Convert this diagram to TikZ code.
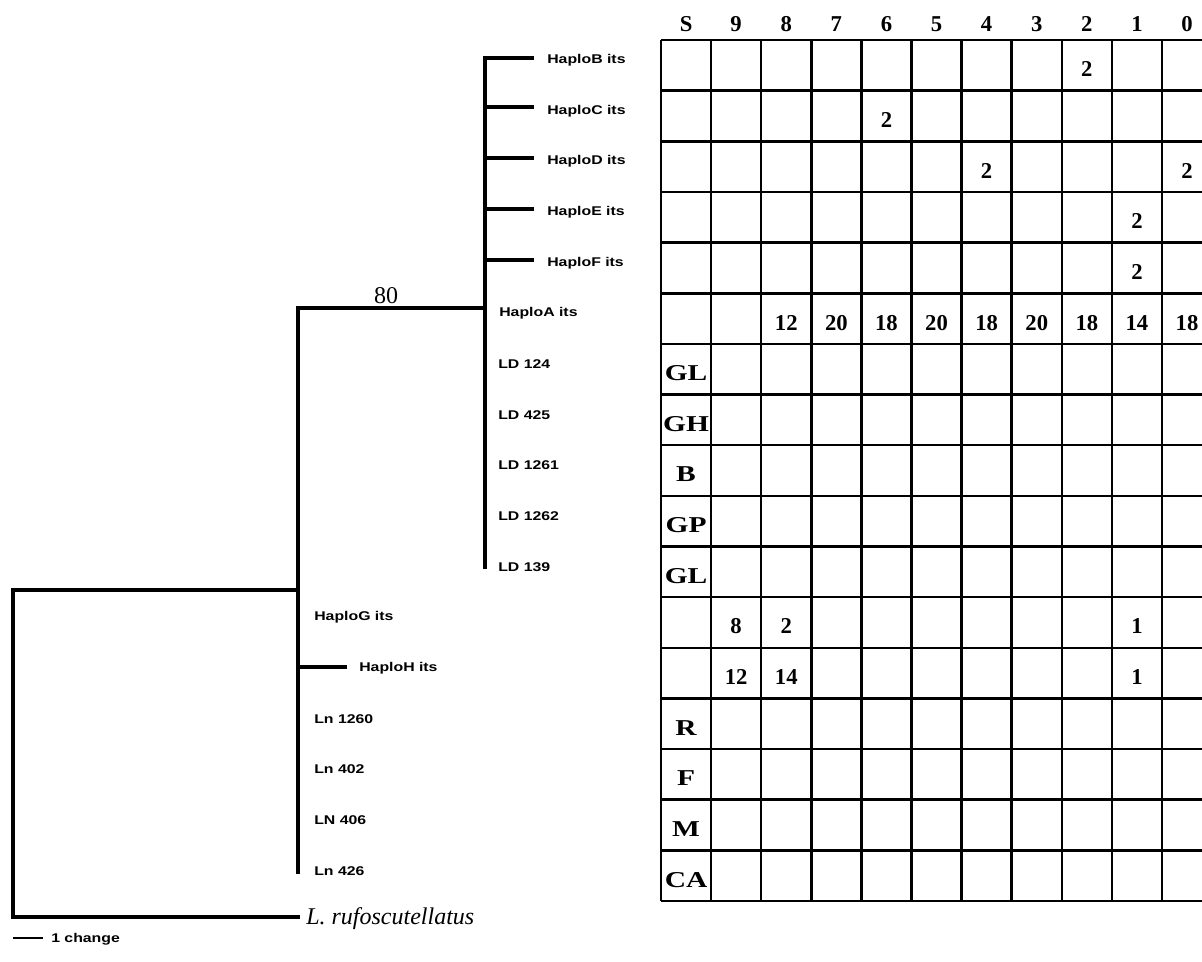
\documentclass[tikz,border=0pt]{standalone}
\usepackage{fontspec}
\setmainfont{Liberation Serif}
\newfontfamily\labfont[FakeStretch=1.25]{Liberation Sans}
\newfontfamily\rowfont[FakeStretch=1.3]{Liberation Serif}
\tikzset{
  tree/.style={line width=2.4pt, line cap=rect},
  gridln/.style={line width=1.9pt},
  taxon/.style={anchor=west, inner sep=0pt, font=\labfont\bfseries\fontsize{9.5}{9.5}\selectfont},
  cellv/.style={inner sep=0pt, font=\bfseries\fontsize{17}{17}\selectfont},
  rowlab/.style={inner sep=0pt, font=\rowfont\bfseries\fontsize{17}{17}\selectfont},
  head/.style={inner sep=0pt, font=\bfseries\fontsize{17}{17}\selectfont},
}
\newcommand{\cx}[1]{661+50.1*(#1+0.5)}
\newcommand{\ry}[1]{40+50.65*(#1+0.5)+4}
\begin{document}
\begin{tikzpicture}[x=0.75pt,y=-0.75pt]
\useasboundingbox (0,0) rectangle (1202,962);
% ---------------- tree coordinates
\coordinate (root) at (13,590);
\coordinate (rootlow) at (13,917);
\coordinate (outtip) at (298,917);
\coordinate (nAroot) at (298,590);
\coordinate (nAtop) at (298,308);
\coordinate (nAbot) at (298,872);
\coordinate (nB) at (485,308);
\coordinate (nBtop) at (485,58);
\coordinate (nBbot) at (485,567);
% ---------------- taxon labels
\node[taxon] (hB) at (547,60.3) {HaploB its};
\node[taxon] (hC) at (547,111) {HaploC its};
\node[taxon] (hD) at (547,161.6) {HaploD its};
\node[taxon] (hE) at (547,212.3) {HaploE its};
\node[taxon] (hF) at (547,262.9) {HaploF its};
\node[taxon] (hA) at (499,313.6) {HaploA its};
\node[taxon] (ld124) at (498,364.2) {LD 124};
\node[taxon] (ld425) at (498,414.9) {LD 425};
\node[taxon] (ld1261) at (498,465.5) {LD 1261};
\node[taxon] (ld1262) at (498,516.2) {LD 1262};
\node[taxon] (ld139) at (498,566.8) {LD 139};
\node[taxon] (hG) at (314,617.5) {HaploG its};
\node[taxon] (hH) at (359,668.1) {HaploH its};
\node[taxon] (ln1260) at (314,718.8) {Ln 1260};
\node[taxon] (ln402) at (314,769.4) {Ln 402};
\node[taxon] (ln406) at (314,820.1) {LN 406};
\node[taxon] (ln426) at (314,870.7) {Ln 426};
\node[anchor=west, inner sep=0pt, font=\itshape\fontsize{18}{18}\selectfont] (outg) at (306,919) {L. rufoscutellatus};
% ---------------- branch tips
\coordinate (tB) at (532,58);
\coordinate (tC) at (532,107);
\coordinate (tD) at (532,158);
\coordinate (tE) at (532,209);
\coordinate (tF) at (532,260);
\coordinate (bB) at (485,58);
\coordinate (bC) at (485,107);
\coordinate (bD) at (485,158);
\coordinate (bE) at (485,209);
\coordinate (bF) at (485,260);
\coordinate (bH) at (298,667);
\coordinate (tH) at (345,667);
% ---------------- branches
\draw[tree] (nAroot) -- (root) -- (rootlow) -- (outtip);
\draw[tree] (nAtop) -- (nAbot);
\draw[tree] (nAtop) -- (nB);
\draw[tree] (nBtop) -- (nBbot);
\foreach \t in {B,C,D,E,F} \draw[tree] (b\t) -- (t\t);
\draw[tree] (bH) -- (tH);
\node[inner sep=0pt, anchor=south, font=\fontsize{18}{18}\selectfont] (boot) at (386,304) {80};
% scale bar
\coordinate (sb1) at (13,938);
\coordinate (sb2) at (43,938);
\draw[line width=2pt] (sb1) -- (sb2);
\node[taxon] (sbl) at (51,939) {1 change};
% ---------------- grid
\foreach \i in {0,...,17} \draw[gridln] (661,{40+50.65*\i}) -- (1202,{40+50.65*\i});
\foreach \j in {0,...,10} \draw[gridln] ({661+50.1*\j},40) -- ({661+50.1*\j},901);
% header
\foreach \h [count=\k from 0] in {S,9,8,7,6,5,4,3,2,1,0}
  \node[head] (hd\k) at ({\cx{\k}},24) {\h};
% values
\node[cellv] (v0) at ({\cx{8}},{\ry{0}}) {2};
\node[cellv] (v1) at ({\cx{4}},{\ry{1}}) {2};
\node[cellv] (v2a) at ({\cx{6}},{\ry{2}}) {2};
\node[cellv] (v2b) at ({\cx{10}},{\ry{2}}) {2};
\node[cellv] (v3) at ({\cx{9}},{\ry{3}}) {2};
\node[cellv] (v4) at ({\cx{9}},{\ry{4}}) {2};
\foreach \v [count=\k from 2] in {12,20,18,20,18,20,18,14,18}
  \node[cellv] (v5-\k) at ({\cx{\k}},{\ry{5}}) {\v};
\foreach \r [count=\k from 6] in {GL,GH,B,GP,GL}
  \node[rowlab] (r\k) at ({\cx{0}},{\ry{\k}}) {\r};
\node[cellv] (v11a) at ({\cx{1}},{\ry{11}}) {8};
\node[cellv] (v11b) at ({\cx{2}},{\ry{11}}) {2};
\node[cellv] (v11c) at ({\cx{9}},{\ry{11}}) {1};
\node[cellv] (v12a) at ({\cx{1}},{\ry{12}}) {12};
\node[cellv] (v12b) at ({\cx{2}},{\ry{12}}) {14};
\node[cellv] (v12c) at ({\cx{9}},{\ry{12}}) {1};
\foreach \r [count=\k from 13] in {R,F,M,CA}
  \node[rowlab] (r\k) at ({\cx{0}},{\ry{\k}}) {\r};
\end{tikzpicture}
\end{document}
